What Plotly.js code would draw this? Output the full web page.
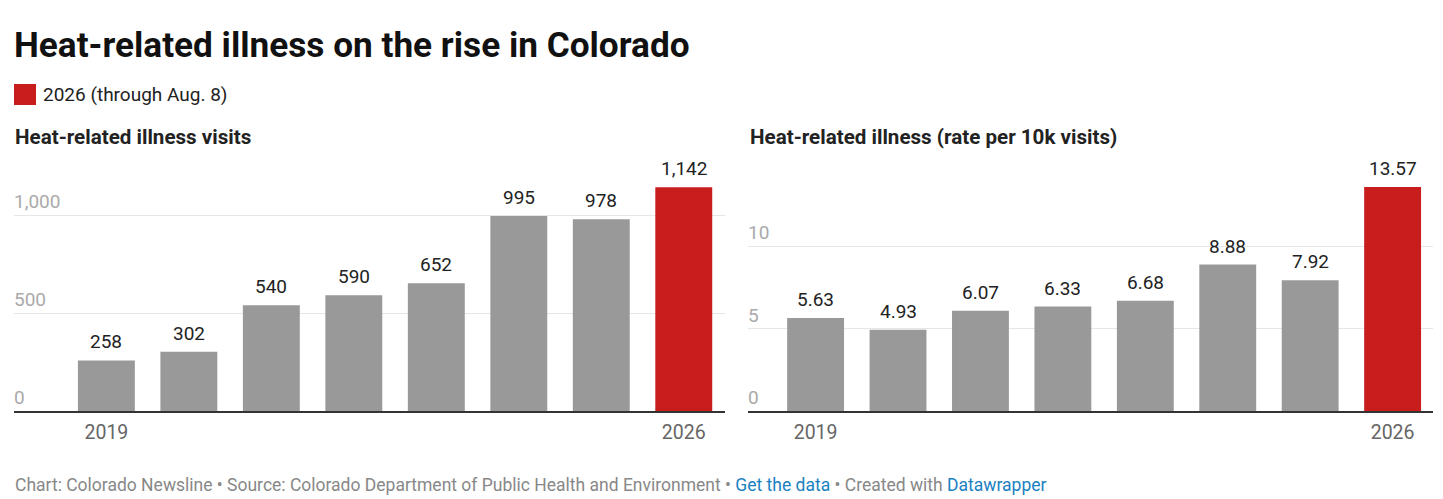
<!DOCTYPE html>
<html>
<head>
<meta charset="utf-8">
<script src="https://cdn.plot.ly/plotly-3.0.1.min.js"></script>
<style>
html,body{margin:0;padding:0;background:#fff;}
#chart{width:1443px;height:499px;}
</style>
</head>
<body>
<div id="chart"></div>
<script>
const years = ['2019','2020','2021','2022','2023','2024','2025','2026'];
const visits = [258, 302, 540, 590, 652, 995, 978, 1142];
const rates = [5.63, 4.93, 6.07, 6.33, 6.68, 8.88, 7.92, 13.57];
const xTickVals = ['2019','2026'];
const visitTicks = [0, 500, 1000];
const visitTickText = ['0','500','1,000'];
const rateTicks = [0, 5, 10];
const rateTickText = ['0','5','10'];
const highlightYear = '2026';
const legendLabel = '2026 (through Aug. 8)';

const GRAY = '#999999', RED = '#c71e1d';
const colors = years.map(y => y === highlightYear ? RED : GRAY);
const FONT = 'Roboto, "Noto Sans", sans-serif';
const W = 1443, H = 499;
const px = v => v / W;
const py = v => 1 - v / H;

const traces = [
  {type:'bar', x: years, y: visits, xaxis:'x', yaxis:'y',
   marker:{color: colors}, hoverinfo:'skip', showlegend:false},
  {type:'bar', x: years, y: rates, xaxis:'x2', yaxis:'y2',
   marker:{color: colors}, hoverinfo:'skip', showlegend:false}
];

// category axis: annotation x given as category index
const valueLabels = (cats, ys, fmt, xr, yr) => cats.map((c, i) => ({
  text: fmt(ys[i]), x: i, y: ys[i], xref: xr, yref: yr,
  xanchor:'center', yanchor:'bottom', yshift: 5, showarrow:false,
  font:{family:FONT, size:19, color:'#222'}
}));

const yDom = [py(411), py(150)];
const xCommon = {type:'category', categoryorder:'array', categoryarray: years,
  tickmode:'array', tickvals: xTickVals, ticks:'', showgrid:false, zeroline:false,
  showline:true, linecolor:'#333', linewidth:1.5, ticklabelstandoff: 3,
  tickfont:{family:FONT, size:19.5, color:'#666'}, fixedrange:true};
const yCommon = {showgrid:true, gridcolor:'#e6e6e6', gridwidth:1, zeroline:false,
  showline:false, ticks:'', ticklabelposition:'inside top', ticklabelstandoff: -3,
  tickfont:{family:FONT, size:19, color:'#aaa'}, fixedrange:true, domain: yDom};

const layout = {
  width: W, height: H,
  margin:{l:0, r:0, t:0, b:0},
  paper_bgcolor:'#fff', plot_bgcolor:'#fff',
  bargap: 0.31,
  showlegend:false,
  title:{text:'Heat-related illness on the rise in Colorado', x: px(14), xanchor:'left',
    xref:'paper', y: py(45), yanchor:'middle', yref:'container',
    font:{family:FONT, size:35.2, weight:700, color:'#111'}},
  xaxis: Object.assign({}, xCommon, {domain:[px(14), px(725)], range:[-1.12, 7.5], anchor:'y'}),
  xaxis2: Object.assign({}, xCommon, {domain:[px(748), px(1433)], range:[-0.82, 7.49], anchor:'y2'}),
  yaxis: Object.assign({}, yCommon, {range:[0, 1331.6], tickvals: visitTicks, ticktext: visitTickText, anchor:'x'}),
  yaxis2: Object.assign({}, yCommon, {range:[0, 15.82], tickvals: rateTicks, ticktext: rateTickText, anchor:'x2'}),
  shapes:[
    {type:'rect', xref:'paper', yref:'paper', x0:px(14), x1:px(36), y0:py(105), y1:py(84),
     fillcolor:RED, line:{width:0}}
  ],
  annotations:[
    {text: legendLabel, xref:'paper', yref:'paper', x:px(41), y:py(95), xanchor:'left', yanchor:'middle',
     showarrow:false, font:{family:FONT, size:19, color:'#222'}},
    {text:'<b>Heat-related illness visits</b>', xref:'paper', yref:'paper', x:px(13), y:py(137),
     xanchor:'left', yanchor:'middle', showarrow:false, font:{family:FONT, size:20.6, color:'#222'}},
    {text:'<b>Heat-related illness (rate per 10k visits)</b>', xref:'paper', yref:'paper', x:px(748), y:py(137),
     xanchor:'left', yanchor:'middle', showarrow:false, font:{family:FONT, size:20.6, color:'#222'}},
    {text:'Chart: Colorado Newsline • Source: Colorado Department of Public Health and Environment • <span style="color:#1a81c2">Get the data</span> • Created with <span style="color:#1a81c2">Datawrapper</span>',
     xref:'paper', yref:'paper', x:px(13), y:py(485), xanchor:'left', yanchor:'middle',
     showarrow:false, font:{family:FONT, size:17.5, color:'#888'}}
  ].concat(
    valueLabels(years, visits, v => v.toLocaleString('en-US'), 'x', 'y'),
    valueLabels(years, rates, v => v.toFixed(2), 'x2', 'y2')
  )
};

Plotly.newPlot('chart', traces, layout, {displayModeBar:false, staticPlot:true});
</script>
</body>
</html>
